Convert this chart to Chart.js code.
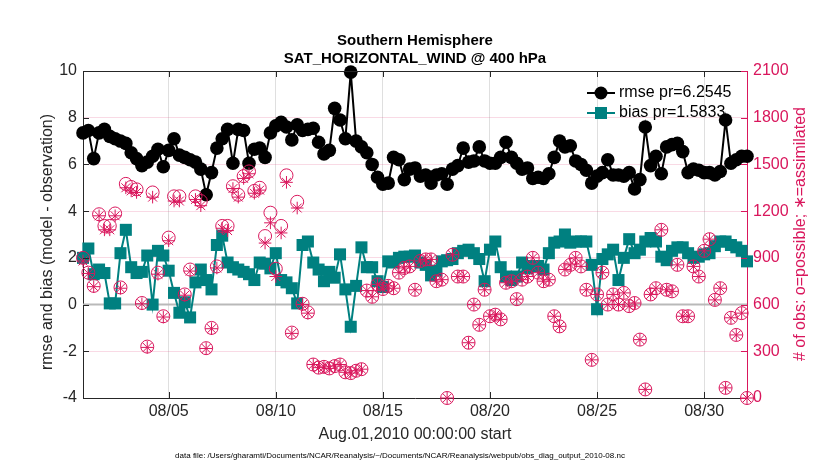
<!DOCTYPE html>
<html lang="en">
<head>
<meta charset="UTF-8">
<title>SAT_HORIZONTAL_WIND @ 400 hPa</title>
<script src="https://cdn.jsdelivr.net/npm/chart.js"></script>
<style>
  body { margin: 0; background: #fff; }
</style>
</head>
<body>
<canvas id="myChart" width="830" height="470"></canvas>
<script>
// 6-hourly bins from Aug.01,2010 00Z, x axis in days since start
const binStep = 0.25;
const tickDays = [4, 9, 14, 19, 24, 29];
const tickLabels = ['08/05', '08/10', '08/15', '08/20', '08/25', '08/30'];
const seriesNames = ['rmse pr=6.2545', 'bias pr=1.5833'];

const rmse = [
  7.35, 7.45, 6.25, 7.35, 7.5, 7.2, 7.1, 7.0, 6.9, 6.5,
  6.25, 5.95, 6.1, 6.35, 6.65, 5.9, 6.6, 7.1, 6.4, 6.3,
  6.2, 6.1, 5.8, 4.7, 5.65, 6.7, 7.1, 7.5, 6.05, 7.5,
  7.45, 6.05, 6.65, 6.7, 6.3, 7.35, 7.65, 7.8, 7.6, 7.05,
  7.7, 7.45, 7.5, 7.55, 6.95, 6.45, 6.6, 8.4, 7.9, 7.1,
  9.95, 7.0, 6.75, 6.5, 6.0, 5.45, 5.15, 5.2, 6.3, 6.2,
  5.35, 5.8, 5.85, 5.5, 5.55, 5.2, 5.55, 5.6, 5.15, 5.8,
  5.95, 6.7, 6.1, 6.15, 6.75, 6.15, 6.05, 6.05, 6.3, 6.95,
  6.3, 6.05, 5.8, 5.85, 5.4, 5.45, 5.4, 5.6, 6.3, 7.0,
  6.75, 6.8, 6.15, 6.0, 5.75, 5.2, 5.5, 5.65, 6.2, 5.55,
  5.55, 5.5, 5.65, 4.95, 5.35, 7.6, 5.95, 6.35, 5.6, 6.75,
  6.85, 6.9, 6.55, 5.65, 5.8, 5.75, 5.65, 5.65, 5.55, 5.7,
  7.9, 6.05, 6.2, 6.35, 6.35
];

const bias = [
  2.0, 2.4, 1.3, 1.5, 1.35, 0.05, 0.05, 2.2, 3.2, 1.6,
  1.35, 1.4, 2.1, 0.0, 2.3, 2.1, 1.45, 0.5, -0.35, 0.1,
  -0.55, 0.95, 1.5, 1.05, 0.65, 2.55, 2.95, 1.8, 1.6, 1.5,
  1.4, 1.3, 1.05, 1.8, 1.75, 1.55, 2.2, 1.05, 0.95, 0.7,
  0.05, 2.55, 2.7, 1.8, 1.5, 1.0, 1.4, 1.15, 2.15, 0.65,
  -0.95, 0.8, 2.45, 1.6, 1.6, 1.0, 0.75, 1.85, 1.8, 2.0,
  2.05, 2.05, 2.1, 1.8, 1.7, 1.25, 1.45, 1.85, 1.9, 1.95,
  2.2, 2.3, 2.35, 2.2, 1.95, 1.0, 2.35, 2.7, 1.6, 1.2,
  1.05, 1.2, 1.8, 1.55, 1.65, 1.65, 1.5, 2.2, 2.65, 2.7,
  3.0, 2.65, 2.7, 2.7, 2.7, 1.7, -0.2, 1.95, 2.15, 2.35,
  1.05, 2.0, 2.8, 2.2, 2.35, 2.7, 2.85, 2.7, 2.05, 1.9,
  2.3, 2.45, 2.45, 2.2, 2.0, 2.05, 2.15, 2.2, 2.5, 2.7,
  2.7, 2.55, 2.45, 2.3, 1.85
];

const nPossible = [
  900, 805, 720, 1180, 1105, 1105, 1185, 710, 1375, 1355,
  1340, 610, 330, 1320, 805, 525, 1030, 1295, 1295, 665,
  825, 1295, 1265, 320, 450, 845, 1105, 1105, 1360, 1305,
  1425, 1455, 1330, 1350, 1040, 1190, 830, 1105, 1430, 420,
  1260, 605, 550, 215, 195, 200, 190, 205, 215, 165,
  160, 175, 185, 690, 650, 730, 700, 720, 705, 805,
  835, 845, 695, 880, 890, 890, 750, 760, 0, 920,
  780, 780, 355, 600, 470, 695, 525, 535, 505, 740,
  750, 635, 760, 780, 900, 805, 750, 760, 525, 460,
  825, 855, 900, 845, 695, 245, 665, 805, 600, 665,
  600, 675, 590, 610, 375, 55, 665, 705, 1080, 695,
  685, 855, 525, 525, 845, 780, 945, 1020, 630, 705,
  65, 515, 405, 545, 0
];

const nUsed = [
  880, 800, 715, 1170, 1080, 1080, 1170, 705, 1350, 1330,
  1320, 605, 325, 1290, 795, 520, 1010, 1265, 1265, 660,
  815, 1275, 1235, 318, 445, 835, 1090, 1075, 1345, 1290,
  1410, 1440, 1315, 1335, 995, 1125, 780, 1060, 1385, 415,
  1220, 600, 545, 215, 195, 200, 190, 205, 215, 165,
  160, 175, 185, 690, 650, 730, 700, 720, 705, 805,
  835, 845, 695, 880, 890, 890, 750, 760, 0, 920,
  780, 780, 355, 600, 470, 695, 525, 535, 505, 740,
  750, 635, 760, 780, 900, 805, 750, 760, 525, 460,
  825, 855, 900, 845, 695, 245, 665, 805, 600, 665,
  600, 675, 590, 610, 375, 55, 665, 705, 1080, 695,
  685, 855, 525, 525, 845, 780, 945, 1020, 630, 705,
  65, 515, 405, 545, 0
];

const pink = 'rgb(217,22,92)';
const teal = 'rgb(0,128,128)';
const axisGrey = '#262626';
const fontFam = '"Liberation Sans", Arial, Helvetica, sans-serif';

Chart.defaults.font.family = fontFam;

function toXY(arr) {
  return arr.map((v, i) => ({ x: i * binStep, y: v }));
}

// frame, inward ticks, zero line, axis titles, legend, footnote
const frame = {
  id: 'frame',
  beforeDatasetsDraw(chart) {
    const { ctx, chartArea: a, scales } = chart;
    const y0 = scales.y.getPixelForValue(0);
    ctx.save();
    ctx.strokeStyle = '#b9b9b9';
    ctx.lineWidth = 2;
    ctx.beginPath();
    ctx.moveTo(a.left, y0);
    ctx.lineTo(a.right, y0);
    ctx.stroke();
    ctx.restore();
  },
  afterDraw(chart) {
    const { ctx, chartArea: a, scales } = chart;
    const tl = 6;
    ctx.save();
    ctx.lineWidth = 1;
    // top edge
    ctx.strokeStyle = axisGrey;
    ctx.beginPath();
    ctx.moveTo(a.left, a.top + 0.5);
    ctx.lineTo(a.right, a.top + 0.5);
    ctx.stroke();
    // inward ticks
    ctx.beginPath();
    scales.y.ticks.forEach(t => {
      const py = Math.round(scales.y.getPixelForValue(t.value)) + 0.5;
      ctx.moveTo(a.left, py);
      ctx.lineTo(a.left + tl, py);
    });
    scales.x.ticks.forEach(t => {
      const px = Math.round(scales.x.getPixelForValue(t.value)) + 0.5;
      ctx.moveTo(px, a.bottom);
      ctx.lineTo(px, a.bottom - tl);
      ctx.moveTo(px, a.top);
      ctx.lineTo(px, a.top + tl);
    });
    ctx.stroke();
    ctx.strokeStyle = pink;
    ctx.beginPath();
    scales.y2.ticks.forEach(t => {
      const py = Math.round(scales.y2.getPixelForValue(t.value)) + 0.5;
      ctx.moveTo(a.right, py);
      ctx.lineTo(a.right - tl, py);
    });
    ctx.stroke();

    // axis titles
    ctx.font = '16px ' + fontFam;
    ctx.textAlign = 'center';
    ctx.textBaseline = 'middle';
    ctx.fillStyle = axisGrey;
    ctx.fillText('Aug.01,2010 00:00:00 start', (a.left + a.right) / 2, 435);
    ctx.save();
    ctx.translate(48, 242);
    ctx.rotate(-Math.PI / 2);
    ctx.fillText('rmse and bias (model - observation)', 0, 0);
    ctx.restore();
    ctx.save();
    ctx.fillStyle = pink;
    ctx.translate(801, 234);
    ctx.rotate(-Math.PI / 2);
    ctx.fillText('# of obs: o=possible; \u2217=assimilated', 0, 0);
    ctx.restore();

    ctx.font = '8px ' + fontFam;
    ctx.fillStyle = '#000';
    ctx.fillText('data file: /Users/gharamti/Documents/NCAR/Reanalysis/~/Documents/NCAR/Reanalysis/webpub/obs_diag_output_2010-08.nc', 400, 456);

    // legend
    const lx0 = 587, lx1 = 615, mx = 601, tx = 619;
    const rows = [93, 113];
    ctx.lineWidth = 2;
    ctx.strokeStyle = '#000';
    ctx.fillStyle = '#000';
    ctx.beginPath(); ctx.moveTo(lx0, rows[0]); ctx.lineTo(lx1, rows[0]); ctx.stroke();
    ctx.beginPath(); ctx.arc(mx, rows[0], 6.5, 0, Math.PI * 2); ctx.fill();
    ctx.strokeStyle = teal;
    ctx.fillStyle = teal;
    ctx.beginPath(); ctx.moveTo(lx0, rows[1]); ctx.lineTo(lx1, rows[1]); ctx.stroke();
    ctx.fillRect(mx - 6, rows[1] - 6, 12, 12);
    ctx.font = '16px ' + fontFam;
    ctx.textAlign = 'left';
    ctx.fillStyle = '#000';
    ctx.fillText(seriesNames[0], tx, rows[0]);
    ctx.fillText(seriesNames[1], tx, rows[1]);
    ctx.restore();
  }
};

const ctx = document.getElementById('myChart');
const configs = {
  type: 'line',
  data: {
    datasets: [
      {
        label: 'assimilated', yAxisID: 'y2', data: toXY(nUsed),
        showLine: false, pointStyle: 'star', pointRadius: 6.3,
        borderColor: pink, backgroundColor: pink, borderWidth: 1, clip: false
      },
      {
        label: 'possible', yAxisID: 'y2', data: toXY(nPossible),
        showLine: false, pointStyle: 'circle', pointRadius: 6.5,
        borderColor: pink, backgroundColor: 'rgba(0,0,0,0)', borderWidth: 1, clip: false
      },
      {
        label: 'rmse', yAxisID: 'y', data: toXY(rmse),
        borderColor: '#000', backgroundColor: '#000', borderWidth: 2,
        pointStyle: 'circle', pointRadius: 6.8, pointBorderWidth: 0, clip: false
      },
      {
        label: 'bias', yAxisID: 'y', data: toXY(bias),
        borderColor: teal, backgroundColor: teal, borderWidth: 2,
        pointStyle: 'rect', pointRadius: 8.5, pointBorderWidth: 0, clip: false
      }
    ]
  },
  options: {
    responsive: false,
    animation: false,
    events: [],
    layout: { padding: 0 },
    elements: { line: { tension: 0 } },
    plugins: {
      legend: { display: false },
      tooltip: { enabled: false },
      title: {
        display: true,
        text: ['Southern Hemisphere', 'SAT_HORIZONTAL_WIND @ 400 hPa'],
        color: '#000',
        font: { size: 15, weight: 'bold', lineHeight: 1.2 },
        padding: { top: 32, bottom: 3 }
      }
    },
    scales: {
      x: {
        type: 'linear', min: 0, max: 31,
        afterBuildTicks: s => { s.ticks = tickDays.map(v => ({ value: v })); },
        afterFit: s => { s.height = 72; },
        ticks: {
          callback: v => tickLabels[tickDays.indexOf(v)],
          font: { size: 16 }, color: axisGrey, padding: 4,
          maxRotation: 0, autoSkip: false
        },
        grid: { color: 'rgba(38,38,38,0.15)', drawTicks: false },
        border: { color: axisGrey, width: 1 }
      },
      y: {
        position: 'left', min: -4, max: 10,
        afterFit: s => { s.width = 83; },
        ticks: { stepSize: 2, font: { size: 16 }, color: axisGrey, padding: 6 },
        grid: { drawOnChartArea: false, drawTicks: false },
        border: { color: axisGrey, width: 1 }
      },
      y2: {
        position: 'right', min: 0, max: 2100,
        afterFit: s => { s.width = 83; },
        ticks: { stepSize: 300, font: { size: 16 }, color: pink, padding: 6, callback: v => String(v) },
        grid: { color: 'rgba(217,22,92,0.16)', drawTicks: false },
        border: { color: pink, width: 1 }
      }
    }
  },
  plugins: [frame]
};
const myChart = new Chart(ctx, configs);
</script>
</body>
</html>
